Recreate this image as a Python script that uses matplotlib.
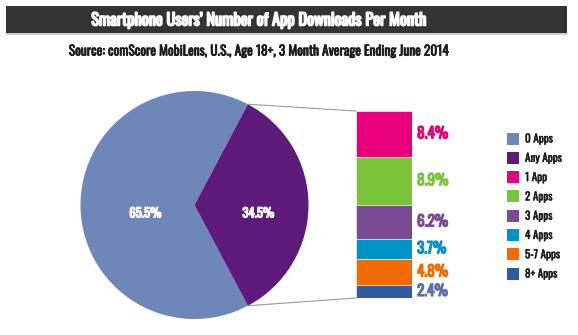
import numpy as np
import matplotlib
matplotlib.use("Agg")
import matplotlib.pyplot as plt
import matplotlib.patheffects as pe
from matplotlib.patches import Rectangle
from matplotlib.lines import Line2D
from matplotlib import font_manager

# ---- data ----
pie_labels = ["0 Apps", "Any Apps"]
pie_values = [65.5, 34.5]
pie_colors = ["#6f86b8", "#5e1a7a"]

bar_labels = ["1 App", "2 Apps", "3 Apps", "4 Apps", "5-7 Apps", "8+ Apps"]
bar_values = [8.4, 8.9, 6.2, 3.7, 4.8, 2.4]
bar_colors = ["#e8007a", "#7ac43a", "#7b4a94", "#0094c8", "#f26a00", "#2e5ca0"]
bar_text_colors = ["#e8007a", "#7ac43a", "#7b4a94", "#0094c8", "#f26a00", "#5b6fb0"]

title = "Smartphone Users\u2019 Number of App Downloads Per Month"
subtitle = "Source: comScore MobiLens, U.S., Age 18+, 3 Month Average Ending June 2014"

installed = {f.name for f in font_manager.fontManager.ttflist}


def pick(*cands):
    fams = [c for c in cands if c in installed]
    return fams[:1] + ["DejaVu Sans"]


COND = pick("Oswald", "Barlow Condensed", "Roboto Condensed")
plt.rcParams["font.family"] = COND

W, H = 578, 335
fig = plt.figure(figsize=(W / 100, H / 100), dpi=100)
renderer = fig.canvas.get_renderer()


def fit_size(sample, width_px, **kw):
    """Font size at which `sample` is width_px pixels wide."""
    t = fig.text(0, 0, sample, fontsize=10, **kw)
    w = t.get_window_extent(renderer).width
    t.remove()
    return 10 * width_px / w


def heavy(lw, color):
    return [pe.withStroke(linewidth=lw, foreground=color)]


def frect(x0, y0, x1, y1):
    """Figure-fraction rect from pixel box (top-left origin)."""
    return [x0 / W, 1 - y1 / H, (x1 - x0) / W, (y1 - y0) / H]


# title banner
fig.patches.append(Rectangle((6 / W, 1 - 35 / H), 561 / W, 2 / H, transform=fig.transFigure,
                             facecolor="#cccccc", edgecolor="none"))
fig.patches.append(Rectangle((6 / W, 1 - 33 / H), 561 / W, 27 / H, transform=fig.transFigure,
                             facecolor="#333333", edgecolor="none"))
fs_title = fit_size(title, 334)
fig.text(258.5 / W, 1 - 20 / H, title, color="white", fontsize=fs_title,
         ha="center", va="center", path_effects=heavy(1.1, "white"))
fs_sub = fit_size(subtitle, 380)
fig.text(259 / W, 1 - 51 / H, subtitle, color="#1a1a1a", fontsize=fs_sub,
         ha="center", va="center", path_effects=heavy(0.5, "#1a1a1a"))

# ---- pie ----
cx, cy, R = 194.5, 205, 114
ax_pie = fig.add_axes(frect(cx - R, cy - R, cx + R, cy + R))
half = pie_values[1] / sum(pie_values) * 180
wedges, _ = ax_pie.pie(pie_values, colors=pie_colors, startangle=half, counterclock=True,
                       radius=1.0, wedgeprops=dict(linewidth=0))
ax_pie.set_xlim(-1, 1)
ax_pie.set_ylim(-1, 1)
ax_pie.set_aspect("equal")
fs_num = fit_size("65.5%", 32)
label_dist = [0.43, 0.56]
for w, v, d in zip(wedges, pie_values, label_dist):
    ang = np.deg2rad((w.theta1 + w.theta2) / 2)
    ax_pie.text(d * np.cos(ang), d * np.sin(ang) - 0.07, f"{v}%", color="white",
                fontsize=fs_num, ha="center", va="center", path_effects=heavy(0.8, "white"))

# ---- stacked bar of "Any Apps" breakdown ----
bx0, bx1, by0, by1 = 356, 412, 111, 298
ax_bar = fig.add_axes(frect(bx0, by0, bx1, by1))
total = sum(bar_values)
bottom = total
centers = []
for lab, v, c in zip(bar_labels, bar_values, bar_colors):
    bottom -= v
    ax_bar.bar(0, v, bottom=bottom, width=1.0, color=c, edgecolor="white", linewidth=0.4)
    centers.append(bottom + v / 2)
ax_bar.set_xlim(-0.5, 0.5)
ax_bar.set_ylim(0, total)
ax_bar.axis("off")
fs_bar = fit_size("8.4%", 31)
for v, yc, tc in zip(bar_values, centers, bar_text_colors):
    ax_bar.text(0.59, yc, f"{v}%", color=tc, fontsize=fs_bar,
                ha="left", va="center", clip_on=False, path_effects=heavy(0.9, tc))

# connector lines from the pie wedge edge to the bar
ang_top = np.deg2rad(half)
px = cx + R * np.cos(ang_top)
py_top = cy - R * np.sin(ang_top)
py_bot = cy + R * np.sin(ang_top)
for (x0, y0, x1, y1) in [(px, py_top, bx0, by0), (px, py_bot, bx0, by1)]:
    fig.lines.append(Line2D([x0 / W, x1 / W], [1 - y0 / H, 1 - y1 / H], transform=fig.transFigure,
                            color="#999999", linewidth=0.8))

# ---- legend ----
leg_names = pie_labels + bar_labels
leg_colors = pie_colors + bar_colors
fs_leg = fit_size("Any Apps", 37)
for i, (n, c) in enumerate(zip(leg_names, leg_colors)):
    y = 138.5 + i * 19.3
    fig.patches.append(Rectangle((507 / W, 1 - (y + 6) / H), 12 / W, 12 / H,
                                 transform=fig.transFigure, facecolor=c, edgecolor="none"))
    fig.text(525 / W, 1 - y / H, n, color="#1a1a1a", fontsize=fs_leg,
             ha="left", va="center", path_effects=heavy(0.3, "#1a1a1a"))

fig.savefig("out.png", dpi=100)
